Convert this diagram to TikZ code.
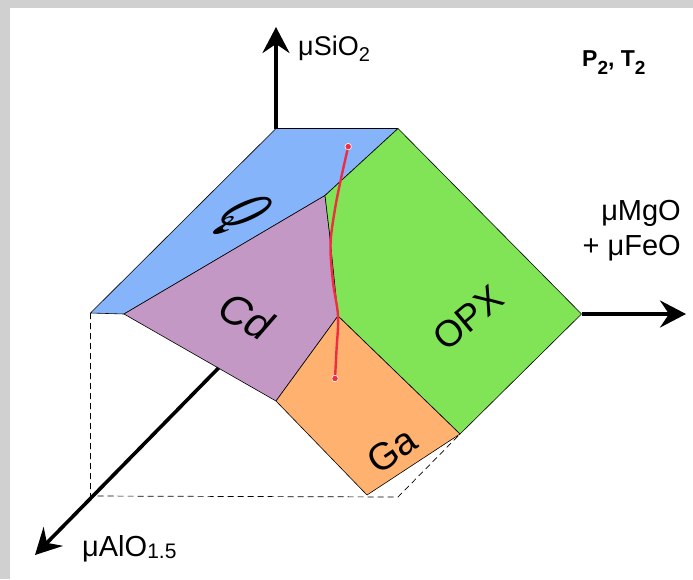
\documentclass[tikz,border=0pt]{standalone}
\usepackage{fontspec}
\usetikzlibrary{arrows.meta}
\newfontfamily\axisfont{Liberation Sans}
\definecolor{qblue}{RGB}{134,180,250}
\definecolor{cdpurple}{RGB}{196,152,196}
\definecolor{opxgreen}{RGB}{128,228,86}
\definecolor{gaorange}{RGB}{255,178,112}
\definecolor{pathred}{RGB}{240,44,64}
\definecolor{paper}{RGB}{208,208,208}
\begin{document}
\begin{tikzpicture}[x=1pt,y=-1pt,
  axis/.style={line width=3.6pt,-{Stealth[length=26pt,width=27pt,inset=9pt]}},
  face/.style={draw=black,line width=0.6pt,line join=round},
  guide/.style={dash pattern=on 6pt off 4pt,line width=0.7pt},
  axlabel/.style={font=\axisfont\fontsize{29}{35}\selectfont,inner sep=0pt},
  phase/.style={font=\axisfont\fontsize{37}{37}\selectfont,inner sep=0pt}]
\useasboundingbox (0,0) rectangle (693,579);
\fill[paper] (0,0) rectangle (693,579);
\fill[white] (10,8) rectangle (693,579);

% corners of the surface
\coordinate (ridgeL) at (276,128.5);
\coordinate (ridgeR) at (398,128.5);
\coordinate (blueL) at (90.5,313);
\coordinate (blueB) at (124,314);
\coordinate (tripQ) at (325,195.5);
\coordinate (kink) at (329.5,233);
\coordinate (tripG) at (338,316);
\coordinate (cdB) at (276,401);
\coordinate (gaB) at (367,495);
\coordinate (gaR) at (460,434);
\coordinate (opxR) at (581.5,314);
\coordinate (aloStart) at (218.5,368);

% axis ends
\coordinate (sioTip) at (276,27);
\coordinate (mgoTip) at (686,314);
\coordinate (aloTip) at (35,555);

% dashed box
\coordinate (boxC) at (90.5,496);
\coordinate (boxR) at (398,497);
\draw[guide] (blueL)--(boxC)--(boxR)--(gaR);

% faces
\draw[face,fill=qblue] (ridgeL)--(ridgeR)--(tripQ)--(blueB)--(blueL)--cycle;
\draw[face,fill=cdpurple] (blueB)--(tripQ)--(kink)--(tripG)--(cdB)--cycle;
\draw[face,fill=opxgreen] (ridgeR)--(opxR)--(gaR)--(tripG)--(kink)--(tripQ)--cycle;
\draw[face,fill=gaorange] (tripG)--(gaR)--(gaB)--(cdB)--cycle;

% axes
\draw[axis] (ridgeL)--(sioTip);
\draw[axis] (opxR)--(mgoTip);
\draw[axis] (aloStart)--(aloTip);

% red path
\coordinate (redTop) at (348.2,146.6);
\coordinate (redBot) at (335,378.5);
\draw[pathred,line width=2.4pt,line cap=round] plot[smooth,tension=0.6] coordinates {(redTop) (340.3,182) (334.5,212) (330.5,245) (333,282) (338,316) (336.5,350) (redBot)};
\fill[pathred,draw=white,line width=0.6pt] (redTop) circle (3.2pt);
\fill[pathred,draw=white,line width=0.6pt] (redBot) circle (3.2pt);

% labels
\coordinate (qc) at (240.5,213);
\coordinate (cdc) at (246,316);
\coordinate (opxc) at (468,318);
\coordinate (gac) at (392,450);
\node[font=\bfseries\itshape\fontsize{48}{48}\selectfont,inner sep=0pt,rotate=-60,xscale=0.6,yscale=1.55] (qlab) at (qc) {Q};
\node[phase,font=\axisfont\itshape\fontsize{42}{42}\selectfont,rotate=-30] (cdlab) at (cdc) {Cd};
\node[phase,rotate=40] (opxlab) at (opxc) {OPX};
\node[phase,font=\axisfont\fontsize{38}{38}\selectfont,rotate=34] (galab) at (gac) {Ga};

\node[axlabel,font=\axisfont\fontsize{27}{27}\selectfont,anchor=base west] (sio) at (298,55) {μSiO\raisebox{-6pt}{\fontsize{20}{20}\selectfont 2}};
\node[axlabel,align=right,anchor=base east] (mgo) at (681,255) {μMgO\\+ μFeO};
\node[axlabel,anchor=base west] (alo) at (82,556) {μAlO\raisebox{-2pt}{\fontsize{21}{21}\selectfont 1.5}};
\node[font=\axisfont\bfseries\fontsize{23}{23}\selectfont,inner sep=0pt,anchor=base west] (pt) at (582,66.5) {P\raisebox{-8pt}{\fontsize{19}{19}\selectfont 2}, T\raisebox{-8pt}{\fontsize{19}{19}\selectfont 2}};
\end{tikzpicture}
\end{document}
